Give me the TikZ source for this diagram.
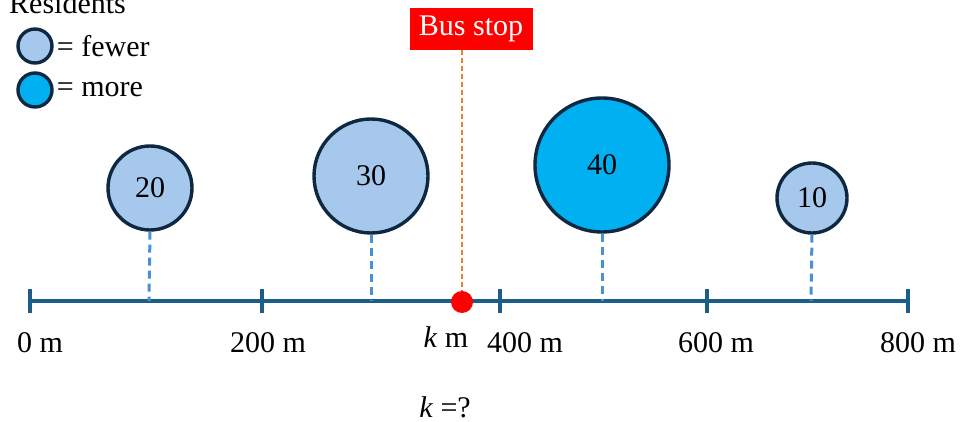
\documentclass[tikz,border=0pt]{standalone}
\usepackage{fontspec}
\setmainfont{Liberation Serif}
\usetikzlibrary{positioning,calc}
\definecolor{eje}{HTML}{1B5E8A}
\definecolor{borde}{HTML}{0E2841}
\definecolor{pocos}{HTML}{A6C8EC}
\definecolor{muchos}{HTML}{00B0F0}
\definecolor{guia}{HTML}{4A90D9}
\definecolor{naranja}{HTML}{ED7D31}

\begin{document}
\begin{tikzpicture}[x=1pt, y=-1pt,
  font=\fontsize{30}{36}\selectfont,
  casa/.style={circle, draw=borde, line width=3.4pt, inner sep=0pt, font=\fontsize{30}{36}\selectfont},
  menos/.style={casa, fill=pocos},
  mas/.style={casa, fill=muchos},
  marca/.style={eje, line width=3.6pt},
  linea/.style={guia, line width=3pt, dash pattern=on 8pt off 5pt},
  rotulo/.style={inner sep=0pt, anchor=base}]
\useasboundingbox (0,0) rectangle (964,422);
% axis
\coordinate (a0) at (30,301); \coordinate (a2) at (262,301);
\coordinate (a4) at (500,301); \coordinate (a6) at (707,301);
\coordinate (a8) at (908,301);
\draw[marca] (a0) -- (a8);
\foreach \t in {a0,a2,a4,a6,a8} \draw[marca] ($(\t)+(0,-12)$) -- ($(\t)+(0,12)$);
\node[rotulo] (l0) at (40,352) {0 m};
\node[rotulo] (l2) at (268,352) {200 m};
\node[rotulo] (l4) at (525,352) {400 m};
\node[rotulo] (l6) at (716,352) {600 m};
\node[rotulo] (l8) at (918,352) {800 m};
% residents
\node[menos, minimum size=84pt] (c20) at (150,188) {20};
\node[menos, minimum size=114pt] (c30) at (371,176) {30};
\node[mas, minimum size=134pt] (c40) at (602,165) {40};
\node[menos, minimum size=70pt] (c10) at (812,198) {10};
\coordinate (p20) at (149,301); \coordinate (p30) at (371,301);
\coordinate (p40) at (602,301); \coordinate (p10) at (811,301);
\draw[linea] (c20.south) -- (p20);
\draw[linea] (c30.south) -- (p30);
\draw[linea] (c40.south) -- (p40);
\draw[linea] (c10.south) -- (p10);
% bus stop
\node[fill=red, text=white, minimum width=123pt, minimum height=42pt, inner sep=0pt] (bus) at (471,29) {Bus stop};
\node[circle, fill=red, minimum size=22pt, inner sep=0pt] (k) at (462,302) {};
\draw[naranja, line width=2.4pt, dash pattern=on 5pt off 3pt] (bus.south -| k) -- (k.north);
\node[rotulo] (lk) at (446,347) {\textit{k} m};
\node[rotulo] (q) at (445,417) {\textit{k} =?};
% legend
\node[rotulo, anchor=base west] (res) at (9,14) {Residents};
\node[menos, minimum size=34pt] (g1) at (35,46) {};
\node[mas, minimum size=34pt] (g2) at (35,90) {};
\node[right=3pt of g1, inner sep=0pt] (t1) {= fewer};
\node[right=3pt of g2, inner sep=0pt] (t2) {= more};
\end{tikzpicture}
\end{document}
